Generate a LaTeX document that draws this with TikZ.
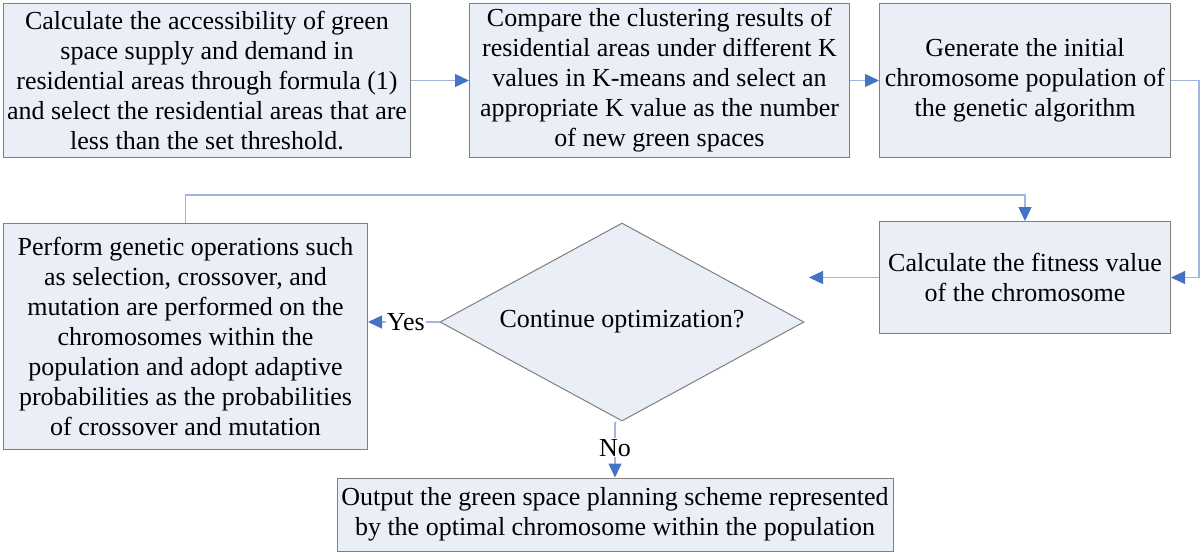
\documentclass[tikz,border=0pt]{standalone}
\usepackage{fontspec}
\setmainfont{Liberation Serif}
\usetikzlibrary{positioning, shapes.geometric, arrows.meta}
\definecolor{boxfill}{HTML}{E9EEF7}
\definecolor{boxline}{HTML}{7F7F7F}
\definecolor{linkline}{HTML}{A3B5DC}
\definecolor{tipblue}{HTML}{4472C4}
\tikzset{
  box/.style={draw=boxline, fill=boxfill, line width=1pt, align=center,
    inner sep=2pt, font=\fontsize{26}{30}\selectfont},
  link/.style={draw=linkline, line width=1.3pt,
    -{Triangle[length=14pt,width=13pt,color=tipblue]}},
  lbl/.style={fill=white, inner sep=1pt, font=\fontsize{26}{30}\selectfont}
}
\begin{document}
\begin{tikzpicture}
\useasboundingbox (0,0) rectangle (1200pt,-555pt);
\node[box, minimum width=407pt, minimum height=154pt, anchor=north west]
    (b1) at (3pt,-3pt)
    {Calculate the accessibility of green\\ space supply and demand in\\
     residential areas through formula (1)\\ and select the residential areas that are\\
     less than the set threshold.};
\node[box, minimum width=380pt, minimum height=154pt, right=58pt of b1] (b2)
    {Compare the clustering results of\\ residential areas under different K\\
     values in K-means and select an\\ appropriate K value as the number\\
     of new green spaces};
\node[box, minimum width=291pt, minimum height=154pt, right=29pt of b2] (b3)
    {Generate the initial\\ chromosome population of\\ the genetic algorithm};
\node[box, minimum width=291pt, minimum height=112pt, below=63pt of b3] (b4)
    {Calculate the fitness value\\ of the chromosome};
\node[box, minimum width=364pt, minimum height=226pt, anchor=north west]
    (b5) at (3pt,-223pt)
    {Perform genetic operations such\\ as selection, crossover, and\\
     mutation are performed on the\\ chromosomes within the\\
     population and adopt adaptive\\ probabilities as the probabilities\\
     of crossover and mutation};
\node[box, diamond, aspect=2, inner sep=0pt, minimum width=364pt,
    minimum height=198pt] (dia) at (622pt,-322pt) {Continue optimization?};
\node[box, minimum width=556pt, minimum height=73pt] (b6) at (615pt,-514.5pt)
    {Output the green space planning scheme represented\\
     by the optimal chromosome within the population};
\coordinate[left=70pt of b4.west] (gap);
\draw[link] (b1) -- (b2);
\draw[link] (b2) -- (b3);
\draw[link] (b3.east) -- ++(28pt,0) |- (b4.east);
\draw[link] (b4.west) -- (gap);
\draw[link] (dia.west) -- node[lbl, pos=0.47] {Yes} (b5.east |- dia.west);
\draw[link] (b6.north |- dia.south) -- node[lbl, pos=0.47] {No} (b6.north);
\draw[link] (b5.north) -- ++(0,28pt) -| (b4.north);
\end{tikzpicture}
\end{document}
